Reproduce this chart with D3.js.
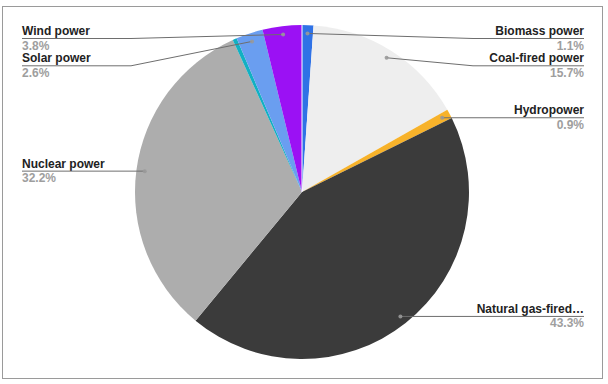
<!DOCTYPE html>
<html>
<head>
<meta charset="utf-8">
<script src="https://cdn.jsdelivr.net/npm/d3@7"></script>
<style>
  html, body { margin: 0; padding: 0; background: #fff; }
  svg { display: block; }
  text { font-family: "Liberation Sans", Arial, sans-serif; font-size: 12px; font-weight: bold; }
</style>
</head>
<body>
<svg id="chart" width="608" height="384"></svg>
<script>
// ---- data ----
const categories = ["Biomass power", "Coal-fired power", "Hydropower", "Natural gas-fired power",
                    "Nuclear power", "Other", "Solar power", "Wind power"];
const shares = [1.1, 15.7, 0.9, 43.3, 32.2, 0.4, 2.6, 3.8];
const sliceColors = ["#2f72e6", "#eeeeee", "#f7b22a", "#3b3b3b", "#adadad", "#12b0c2", "#6a9ef0", "#9b11f4"];

// ---- layout ----
const W = 608, H = 384;
const cx = 302, cy = 192, R = 167;
const svg = d3.select("#chart");

svg.append("rect").attr("x", 2.5).attr("y", 6.5).attr("width", 600).attr("height", 372)
  .attr("fill", "#fff").attr("stroke", "#9a9a9a").attr("stroke-width", 1);

const data = categories.map((c, i) => ({ name: c, value: shares[i], color: sliceColors[i] }));
const pie = d3.pie().value(d => d.value).sort(null);
const arcs = pie(data);
const arc = d3.arc().innerRadius(0).outerRadius(R);

const g = svg.append("g").attr("transform", `translate(${cx},${cy})`);
g.selectAll("path.slice").data(arcs).join("path")
  .attr("class", "slice")
  .attr("d", arc)
  .attr("fill", d => d.data.color);

// white hairline at the start angle
g.append("line").attr("x1", 0).attr("y1", 0).attr("x2", 0).attr("y2", -R)
  .attr("stroke", "#fff").attr("stroke-width", 1);

// ---- labels ----
const dotArc = d3.arc().innerRadius(R * 0.95).outerRadius(R * 0.95);
const fmt = v => v.toFixed(1) + "%";
const labeled = arcs.filter(a => a.data.value >= 0.5).map(a => {
  const c = dotArc.centroid(a);
  const mid = (a.startAngle + a.endAngle) / 2;
  return { a, dx: c[0] + cx, dy: c[1] + cy, side: mid < Math.PI ? "right" : "left" };
});

const topMin = 38.5, gap = 27.3;
["left", "right"].forEach(side => {
  const items = labeled.filter(l => l.side === side).sort((p, q) => p.dy - q.dy);
  let prev = -Infinity;
  items.forEach(l => {
    l.ly = Math.max(l.dy, topMin, prev + gap);
    prev = l.ly;
  });
});

const lab = svg.append("g");
const leftX = 22, rightX = 584, kinkOff = R + 4, maxW = 112;

labeled.forEach(l => {
  const isLeft = l.side === "left";
  const anchor = isLeft ? "start" : "end";
  const tx = isLeft ? leftX : rightX;
  const nameT = lab.append("text").attr("x", tx).attr("y", l.ly - 3.5)
    .attr("text-anchor", anchor).attr("fill", "#222").text(l.a.data.name);
  // truncate long names
  let full = l.a.data.name;
  if (nameT.node().getComputedTextLength() > maxW) {
    let s = full;
    while (s.length > 1) {
      s = s.slice(0, -1);
      nameT.text(s.trimEnd() + "…");
      if (nameT.node().getComputedTextLength() <= maxW) break;
    }
  }
  const tw = nameT.node().getComputedTextLength();
  lab.append("text").attr("x", tx).attr("y", l.ly + 11)
    .attr("text-anchor", anchor).attr("fill", "#9e9e9e").text(fmt(l.a.data.value));

  const kx = isLeft ? Math.min(cx - kinkOff, l.dx) : Math.max(cx + kinkOff, l.dx);
  const pts = isLeft
    ? [[leftX, l.ly], [kx, l.ly], [l.dx, l.dy]]
    : [[rightX, l.ly], [kx, l.ly], [l.dx, l.dy]];
  lab.append("path").attr("d", d3.line()(pts))
    .attr("fill", "none").attr("stroke", "#6e6e6e").attr("stroke-width", 1);
  lab.append("circle").attr("cx", l.dx).attr("cy", l.dy).attr("r", 2)
    .attr("fill", "#999").attr("opacity", 0.9);
});
</script>
</body>
</html>
